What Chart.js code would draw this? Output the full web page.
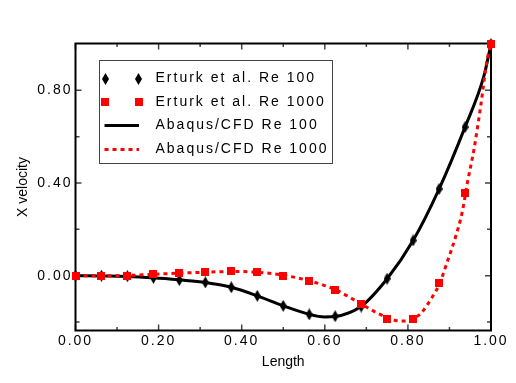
<!DOCTYPE html>
<html>
<head>
<meta charset="utf-8">
<script src="https://cdn.jsdelivr.net/npm/chart.js@4/dist/chart.umd.min.js"></script>
<style>
html,body{margin:0;padding:0;background:#fff;}
#wrap{width:516px;height:383px;position:relative;}
</style>
</head>
<body>
<div id="wrap"><canvas id="c" width="516" height="383"></canvas></div>
<script>
// ---- data ----
const seriesLabels = ["Erturk et al. Re 100", "Erturk et al. Re 1000", "Abaqus/CFD Re 100", "Abaqus/CFD Re 1000"];
const lengthPts = [0, 0.0625, 0.125, 0.1875, 0.25, 0.3125, 0.375, 0.4375, 0.5, 0.5625, 0.625, 0.6875, 0.75, 0.8125, 0.875, 0.9375, 1.0];
const erturkRe100 = [0, 0, -0.002, -0.009, -0.019, -0.029, -0.050, -0.087, -0.130, -0.167, -0.175, -0.133, -0.013, 0.152, 0.374, 0.641, 1.0];
const erturkRe1000 = [0, 0, 0, 0.007, 0.012, 0.016, 0.019, 0.015, 0.0, -0.023, -0.062, -0.124, -0.185, -0.185, -0.033, 0.357, 1.0];
const abaqusRe100X = [0, 0.0625, 0.125, 0.1875, 0.25, 0.3125, 0.375, 0.4375, 0.5, 0.5625, 0.6, 0.625, 0.6875, 0.75, 0.8125, 0.875, 0.9375, 0.983, 1.0];
const abaqusRe100Y = [0, -0.001, -0.003, -0.009, -0.018, -0.029, -0.050, -0.087, -0.130, -0.167, -0.178, -0.176, -0.132, -0.013, 0.152, 0.374, 0.641, 0.862, 1.0];
const abaqusRe1000X = [0, 0.0625, 0.125, 0.1875, 0.25, 0.3125, 0.375, 0.4375, 0.5, 0.5625, 0.625, 0.6875, 0.725, 0.75, 0.77, 0.787, 0.81, 0.831, 0.859, 0.875, 0.895, 0.915, 0.931, 0.943, 0.959, 0.975, 0.991, 1.0];
const abaqusRe1000Y = [0, 0, 0.001, 0.006, 0.011, 0.015, 0.018, 0.015, 0.002, -0.022, -0.060, -0.122, -0.160, -0.180, -0.193, -0.196, -0.188, -0.163, -0.091, -0.040, 0.061, 0.169, 0.277, 0.400, 0.545, 0.730, 0.935, 1.0];
const xTickValues = [0, 0.1, 0.2, 0.3, 0.4, 0.5, 0.6, 0.7, 0.8, 0.9, 1.0];
const xLabelValues = [0, 0.2, 0.4, 0.6, 0.8, 1.0];
const yTickValues = [-0.2, 0, 0.2, 0.4, 0.6, 0.8];
const yLabelValues = [0, 0.4, 0.8];
const xTitle = "Length";
const yTitle = "X velocity";

// ---- styling ----
const RED = '#ff0000';
const BLACK = '#000000';
const FONT = '"Liberation Sans", Arial, sans-serif';

function makeDiamond() {
  const c = document.createElement('canvas');
  c.width = 7; c.height = 12;
  const g = c.getContext('2d');
  g.fillStyle = BLACK;
  g.beginPath();
  g.moveTo(3.5, 0); g.lineTo(7, 6); g.lineTo(3.5, 12); g.lineTo(0, 6); g.closePath();
  g.fill();
  return c;
}
function makeSquare() {
  const c = document.createElement('canvas');
  c.width = 8; c.height = 8;
  const g = c.getContext('2d');
  g.fillStyle = RED;
  g.fillRect(0, 0, 8, 8);
  return c;
}
const diamondImg = makeDiamond();
const squareImg = makeSquare();

const pts = (xs, ys) => xs.map((x, i) => ({x: x, y: ys[i]}));
const isIn = (v, arr) => arr.some(a => Math.abs(a - v) < 1e-6);

const PLOT = {left: 75.5, right: 491, top: 43.5, bottom: 330.5};

const framePlugin = {
  id: 'frame',
  beforeDraw(chart) {
    chart.ctx.letterSpacing = '2px';
  },
  beforeDatasetsDraw(chart) {
    const ctx = chart.ctx;
    const a = chart.chartArea;
    const xs = chart.scales.x, ys = chart.scales.y;
    ctx.save();
    ctx.strokeStyle = '#444';
    ctx.lineWidth = 1.5;
    ctx.beginPath();
    xTickValues.forEach(v => {
      const px = xs.getPixelForValue(v);
      const len = isIn(v, xLabelValues) ? 6 : 3.5;
      ctx.moveTo(px, a.bottom); ctx.lineTo(px, a.bottom - len);
      ctx.moveTo(px, a.top); ctx.lineTo(px, a.top + len);
    });
    yTickValues.forEach(v => {
      const py = ys.getPixelForValue(v);
      const len = isIn(v, yLabelValues) ? 6 : 4;
      ctx.moveTo(a.left, py); ctx.lineTo(a.left + len, py);
      ctx.moveTo(a.right, py); ctx.lineTo(a.right - len, py);
    });
    ctx.stroke();
    ctx.strokeStyle = BLACK;
    ctx.lineWidth = 2;
    ctx.strokeRect(a.left, a.top, a.right - a.left, a.bottom - a.top);
    ctx.restore();
  },
  afterDraw(chart) {
    const ctx = chart.ctx;
    const a = chart.chartArea;
    ctx.save();
    // axis titles
    ctx.letterSpacing = '0px';
    ctx.fillStyle = BLACK;
    ctx.font = '14px ' + FONT;
    ctx.textAlign = 'center';
    ctx.textBaseline = 'alphabetic';
    ctx.fillText(xTitle, (a.left + a.right) / 2, 366);
    ctx.save();
    ctx.translate(26.5, (a.top + a.bottom) / 2);
    ctx.rotate(-Math.PI / 2);
    ctx.fillText(yTitle, 0, 0);
    ctx.restore();

    // legend
    const box = {x: 99.5, y: 60.5, w: 233, h: 103};
    ctx.fillStyle = '#fff';
    ctx.fillRect(box.x, box.y, box.w, box.h);
    ctx.strokeStyle = '#444';
    ctx.lineWidth = 1;
    ctx.strokeRect(box.x, box.y, box.w, box.h);
    const rows = [78.5, 102, 125.5, 149.5];
    const ds = chart.data.datasets;
    const order = [0, 1, 2, 3];
    const m1 = 105, m2 = 138.5;
    order.forEach((di, r) => {
      const d = ds[di];
      const y = rows[r];
      if (d.legendKind === 'marker') {
        const img = d.pointStyle;
        ctx.drawImage(img, Math.round(m1 - img.width / 2), Math.round(y - img.height / 2));
        ctx.drawImage(img, Math.round(m2 - img.width / 2), Math.round(y - img.height / 2));
      } else {
        ctx.save();
        ctx.strokeStyle = d.borderColor;
        ctx.lineWidth = d.borderWidth;
        ctx.setLineDash(d.borderDash || []);
        ctx.beginPath();
        ctx.moveTo(m1 - 0.5, y); ctx.lineTo(m2 + 0.5, y);
        ctx.stroke();
        ctx.restore();
      }
      ctx.letterSpacing = '2px';
      ctx.fillStyle = BLACK;
      ctx.font = '14px ' + FONT;
      ctx.textAlign = 'left';
      ctx.textBaseline = 'middle';
      ctx.fillText(d.label, 155.5, y);
    });
    ctx.restore();
    ctx.letterSpacing = '0px';
  }
};

const chart = new Chart(document.getElementById('c'), {
  type: 'scatter',
  data: {
    datasets: [
      {
        label: seriesLabels[0], legendKind: 'marker',
        data: pts(lengthPts, erturkRe100),
        showLine: false, pointStyle: diamondImg, pointRadius: 6, pointHoverRadius: 6,
        backgroundColor: BLACK, borderColor: BLACK, clip: false, order: 3
      },
      {
        label: seriesLabels[1], legendKind: 'marker',
        data: pts(lengthPts, erturkRe1000),
        showLine: false, pointStyle: squareImg, pointRadius: 5, pointHoverRadius: 5,
        backgroundColor: RED, borderColor: RED, clip: false, order: 1
      },
      {
        label: seriesLabels[2], legendKind: 'line',
        data: pts(abaqusRe100X, abaqusRe100Y),
        showLine: true, pointRadius: 0, borderColor: BLACK, borderWidth: 3,
        cubicInterpolationMode: 'monotone', fill: false, order: 4
      },
      {
        label: seriesLabels[3], legendKind: 'line',
        data: pts(abaqusRe1000X, abaqusRe1000Y),
        showLine: true, pointRadius: 0, borderColor: RED, borderWidth: 3, borderDash: [4, 4],
        cubicInterpolationMode: 'monotone', fill: false, order: 2
      }
    ]
  },
  options: {
    responsive: false,
    animation: false,
    devicePixelRatio: 1,
    layout: {padding: {left: 0, right: 516 - PLOT.right, top: PLOT.top, bottom: 0}},
    plugins: {legend: {display: false}, tooltip: {enabled: false}, title: {display: false}},
    scales: {
      x: {
        type: 'linear', min: 0, max: 1,
        afterBuildTicks: s => { s.ticks = xTickValues.map(v => ({value: v})); },
        afterFit: s => { s.height = 383 - PLOT.bottom; },
        grid: {display: false, drawTicks: false},
        border: {display: false},
        ticks: {
          autoSkip: false, maxRotation: 0, padding: 2, color: BLACK,
          font: {family: FONT, size: 14},
          callback: v => isIn(v, xLabelValues) ? Number(v).toFixed(2) : ''
        },
        title: {display: false}
      },
      y: {
        type: 'linear', min: -0.2365, max: 1.002,
        afterBuildTicks: s => { s.ticks = yTickValues.map(v => ({value: v})); },
        afterFit: s => { s.width = PLOT.left; },
        grid: {display: false, drawTicks: false},
        border: {display: false},
        ticks: {
          autoSkip: false, padding: 3, color: BLACK,
          font: {family: FONT, size: 14},
          callback: v => isIn(v, yLabelValues) ? Number(v).toFixed(2) : ''
        },
        title: {display: false}
      }
    }
  },
  plugins: [framePlugin]
});
</script>
</body>
</html>
